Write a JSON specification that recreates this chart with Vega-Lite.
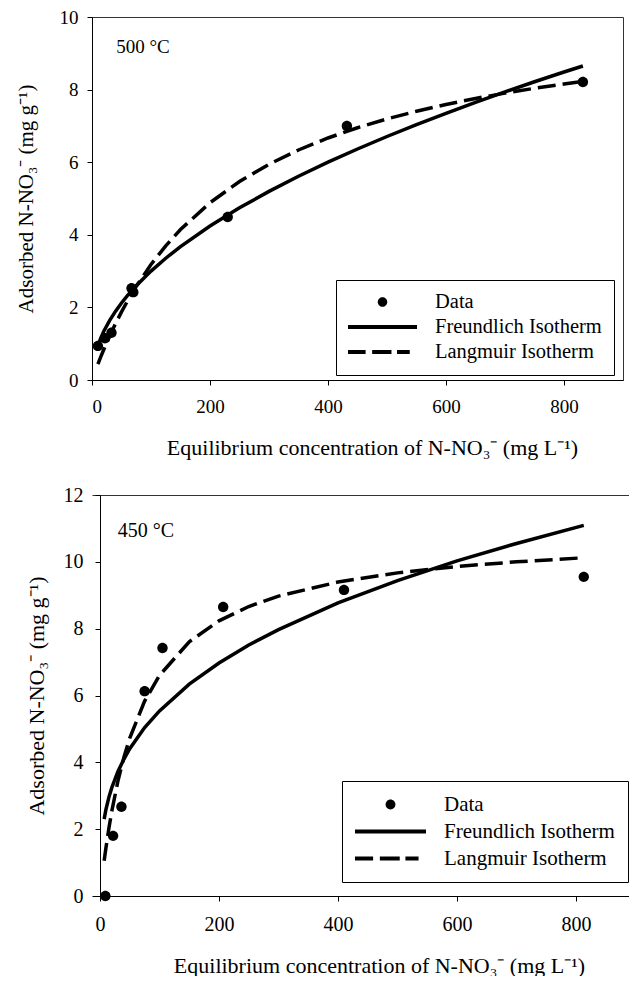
{
  "$schema": "https://vega.github.io/schema/vega-lite/v6.json",
  "background": "white",
  "padding": {"left": 14, "top": 7, "right": 0, "bottom": 0},
  "spacing": 26,
  "config": {
    "font": "Liberation Serif",
    "view": {"stroke": "#333333", "strokeWidth": 1},
    "axis": {
      "grid": false,
      "domainColor": "black",
      "tickColor": "black",
      "labelColor": "black",
      "titleColor": "black",
      "labelFont": "Liberation Serif",
      "titleFont": "Liberation Serif",
      "titleFontWeight": "normal",
      "tickSize": 5
    },
    "legend": {
      "title": null,
      "orient": "none",
      "strokeColor": "black",
      "fillColor": "white",
      "labelFont": "Liberation Serif",
      "labelColor": "black",
      "labelOffset": 18,
      "labelLimit": 300,
      "symbolOffset": 0,
      "symbolFillColor": "black",
      "symbolStrokeWidth": 0
    }
  },
  "datasets": {
    "top": [
      {"c": 10, "q": 0.94, "series": "Data"},
      {"c": 22, "q": 1.15, "series": "Data"},
      {"c": 33, "q": 1.3, "series": "Data"},
      {"c": 67, "q": 2.53, "series": "Data"},
      {"c": 70, "q": 2.42, "series": "Data"},
      {"c": 230, "q": 4.49, "series": "Data"},
      {"c": 432, "q": 7.0, "series": "Data"},
      {"c": 832, "q": 8.21, "series": "Data"},
      {"c": 10, "q": 0.949, "series": "Freundlich Isotherm"},
      {"c": 15, "q": 1.162, "series": "Freundlich Isotherm"},
      {"c": 20, "q": 1.342, "series": "Freundlich Isotherm"},
      {"c": 30, "q": 1.643, "series": "Freundlich Isotherm"},
      {"c": 40, "q": 1.897, "series": "Freundlich Isotherm"},
      {"c": 50, "q": 2.121, "series": "Freundlich Isotherm"},
      {"c": 60, "q": 2.324, "series": "Freundlich Isotherm"},
      {"c": 75, "q": 2.598, "series": "Freundlich Isotherm"},
      {"c": 100, "q": 3.0, "series": "Freundlich Isotherm"},
      {"c": 125, "q": 3.354, "series": "Freundlich Isotherm"},
      {"c": 150, "q": 3.674, "series": "Freundlich Isotherm"},
      {"c": 200, "q": 4.243, "series": "Freundlich Isotherm"},
      {"c": 250, "q": 4.743, "series": "Freundlich Isotherm"},
      {"c": 300, "q": 5.196, "series": "Freundlich Isotherm"},
      {"c": 350, "q": 5.612, "series": "Freundlich Isotherm"},
      {"c": 400, "q": 6.0, "series": "Freundlich Isotherm"},
      {"c": 450, "q": 6.364, "series": "Freundlich Isotherm"},
      {"c": 500, "q": 6.708, "series": "Freundlich Isotherm"},
      {"c": 550, "q": 7.036, "series": "Freundlich Isotherm"},
      {"c": 600, "q": 7.348, "series": "Freundlich Isotherm"},
      {"c": 650, "q": 7.649, "series": "Freundlich Isotherm"},
      {"c": 700, "q": 7.937, "series": "Freundlich Isotherm"},
      {"c": 750, "q": 8.216, "series": "Freundlich Isotherm"},
      {"c": 800, "q": 8.485, "series": "Freundlich Isotherm"},
      {"c": 832, "q": 8.65, "series": "Freundlich Isotherm"},
      {"c": 10, "q": 0.44, "series": "Langmuir Isotherm"},
      {"c": 15, "q": 0.643, "series": "Langmuir Isotherm"},
      {"c": 20, "q": 0.84, "series": "Langmuir Isotherm"},
      {"c": 30, "q": 1.212, "series": "Langmuir Isotherm"},
      {"c": 40, "q": 1.556, "series": "Langmuir Isotherm"},
      {"c": 50, "q": 1.875, "series": "Langmuir Isotherm"},
      {"c": 60, "q": 2.172, "series": "Langmuir Isotherm"},
      {"c": 75, "q": 2.582, "series": "Langmuir Isotherm"},
      {"c": 100, "q": 3.182, "series": "Langmuir Isotherm"},
      {"c": 125, "q": 3.697, "series": "Langmuir Isotherm"},
      {"c": 150, "q": 4.145, "series": "Langmuir Isotherm"},
      {"c": 200, "q": 4.884, "series": "Langmuir Isotherm"},
      {"c": 250, "q": 5.469, "series": "Langmuir Isotherm"},
      {"c": 300, "q": 5.943, "series": "Langmuir Isotherm"},
      {"c": 350, "q": 6.336, "series": "Langmuir Isotherm"},
      {"c": 400, "q": 6.667, "series": "Langmuir Isotherm"},
      {"c": 450, "q": 6.949, "series": "Langmuir Isotherm"},
      {"c": 500, "q": 7.192, "series": "Langmuir Isotherm"},
      {"c": 550, "q": 7.404, "series": "Langmuir Isotherm"},
      {"c": 600, "q": 7.59, "series": "Langmuir Isotherm"},
      {"c": 650, "q": 7.756, "series": "Langmuir Isotherm"},
      {"c": 700, "q": 7.903, "series": "Langmuir Isotherm"},
      {"c": 750, "q": 8.036, "series": "Langmuir Isotherm"},
      {"c": 800, "q": 8.155, "series": "Langmuir Isotherm"},
      {"c": 832, "q": 8.224, "series": "Langmuir Isotherm"}
    ],
    "bottom": [
      {"c": 9, "q": 0.0, "series": "Data"},
      {"c": 22, "q": 1.8, "series": "Data"},
      {"c": 36, "q": 2.67, "series": "Data"},
      {"c": 75, "q": 6.13, "series": "Data"},
      {"c": 105, "q": 7.42, "series": "Data"},
      {"c": 207, "q": 8.65, "series": "Data"},
      {"c": 410, "q": 9.16, "series": "Data"},
      {"c": 813, "q": 9.55, "series": "Data"},
      {"c": 7, "q": 2.3, "series": "Freundlich Isotherm"},
      {"c": 10, "q": 2.59, "series": "Freundlich Isotherm"},
      {"c": 15, "q": 2.96, "series": "Freundlich Isotherm"},
      {"c": 20, "q": 3.25, "series": "Freundlich Isotherm"},
      {"c": 30, "q": 3.72, "series": "Freundlich Isotherm"},
      {"c": 40, "q": 4.09, "series": "Freundlich Isotherm"},
      {"c": 50, "q": 4.41, "series": "Freundlich Isotherm"},
      {"c": 75, "q": 5.04, "series": "Freundlich Isotherm"},
      {"c": 100, "q": 5.54, "series": "Freundlich Isotherm"},
      {"c": 150, "q": 6.34, "series": "Freundlich Isotherm"},
      {"c": 200, "q": 6.97, "series": "Freundlich Isotherm"},
      {"c": 250, "q": 7.51, "series": "Freundlich Isotherm"},
      {"c": 300, "q": 7.97, "series": "Freundlich Isotherm"},
      {"c": 400, "q": 8.77, "series": "Freundlich Isotherm"},
      {"c": 500, "q": 9.44, "series": "Freundlich Isotherm"},
      {"c": 600, "q": 10.03, "series": "Freundlich Isotherm"},
      {"c": 700, "q": 10.55, "series": "Freundlich Isotherm"},
      {"c": 813, "q": 11.09, "series": "Freundlich Isotherm"},
      {"c": 7, "q": 1.053, "series": "Langmuir Isotherm"},
      {"c": 10, "q": 1.445, "series": "Langmuir Isotherm"},
      {"c": 15, "q": 2.033, "series": "Langmuir Isotherm"},
      {"c": 20, "q": 2.553, "series": "Langmuir Isotherm"},
      {"c": 30, "q": 3.429, "series": "Langmuir Isotherm"},
      {"c": 40, "q": 4.14, "series": "Langmuir Isotherm"},
      {"c": 50, "q": 4.728, "series": "Langmuir Isotherm"},
      {"c": 75, "q": 5.832, "series": "Langmuir Isotherm"},
      {"c": 100, "q": 6.602, "series": "Langmuir Isotherm"},
      {"c": 150, "q": 7.608, "series": "Langmuir Isotherm"},
      {"c": 200, "q": 8.235, "series": "Langmuir Isotherm"},
      {"c": 250, "q": 8.663, "series": "Langmuir Isotherm"},
      {"c": 300, "q": 8.975, "series": "Langmuir Isotherm"},
      {"c": 400, "q": 9.397, "series": "Langmuir Isotherm"},
      {"c": 500, "q": 9.67, "series": "Langmuir Isotherm"},
      {"c": 600, "q": 9.86, "series": "Langmuir Isotherm"},
      {"c": 700, "q": 10.001, "series": "Langmuir Isotherm"},
      {"c": 813, "q": 10.122, "series": "Langmuir Isotherm"}
    ],
    "top_label": [{"c": 41, "q": 9.17, "label": "500 °C"}],
    "bottom_label": [{"c": 30, "q": 10.93, "label": "450 °C"}]
  },
  "resolve": {"scale": {"shape": "independent", "x": "independent", "y": "independent"}, "legend": {"shape": "independent"}},
  "vconcat": [
    {
      "width": 531,
      "height": 363,
      "encoding": {
        "x": {"field": "c", "type": "quantitative", "scale": {"domain": [0, 900], "nice": false},
              "axis": {"values": [0, 200, 400, 600, 800], "labelFontSize": 19, "titleFontSize": 22, "labelPadding": 12, "titlePadding": 21, "titleX": 280, "titleAlign": "center"},
              "title": "Equilibrium concentration of N-NO₃⁻ (mg L⁻¹)"},
        "y": {"field": "q", "type": "quantitative", "scale": {"domain": [0, 10], "nice": false},
              "axis": {"values": [0, 2, 4, 6, 8, 10], "labelFontSize": 19, "titleFontSize": 21, "labelPadding": 9, "titlePadding": 23},
              "title": "Adsorbed N-NO₃⁻ (mg g⁻¹)"}
      },
      "layer": [
        {
          "data": {"name": "top"},
          "transform": [{"filter": "datum.series === 'Freundlich Isotherm'"}],
          "mark": {"type": "line", "color": "black", "strokeWidth": 3.5}
        },
        {
          "data": {"name": "top"},
          "transform": [{"filter": "datum.series === 'Langmuir Isotherm'"}],
          "mark": {"type": "line", "color": "black", "strokeWidth": 3.5, "strokeDash": [18, 7]}
        },
        {
          "data": {"name": "top"},
          "transform": [{"filter": "datum.series === 'Data'"}],
          "mark": {"type": "point", "filled": true, "color": "black", "opacity": 1, "size": 5680, "strokeWidth": 0},
          "encoding": {
            "shape": {"field": "series", "type": "nominal",
              "scale": {"domain": ["Data", "Freundlich Isotherm", "Langmuir Isotherm"],
                        "range": ["M-0.138,0A0.138,0.138,0,1,1,0.138,0A0.138,0.138,0,1,1,-0.138,0Z", "M-1,-0.058H1V0.058H-1Z", "M-1,-0.058H-0.49V0.058H-1ZM-0.3,-0.058H0.26V0.058H-0.3ZM0.42,-0.058H0.79V0.058H0.42Z"]},
              "legend": {"legendX": 244, "legendY": 263, "padding": 12, "rowPadding": 4, "clipHeight": 20, "symbolSize": 4761, "labelFontSize": 20.5,
                "encode": {"symbols": {"update": {"size": {"value": 4761}, "fill": {"value": "black"}, "opacity": {"value": 1}, "strokeWidth": {"value": 0}}}}}}
          }
        },
        {
          "data": {"name": "top_label"},
          "mark": {"type": "text", "align": "left", "baseline": "middle", "fontSize": 19, "font": "Liberation Serif", "color": "black"},
          "encoding": {"text": {"field": "label"}}
        }
      ]
    },
    {
      "width": 537,
      "height": 401,
      "view": {"stroke": null},
      "resolve": {"axis": {"x": "independent"}},
      "layer": [
        {
          "data": {"name": "bottom"},
          "transform": [{"filter": "datum.series === 'Freundlich Isotherm'"}],
          "mark": {"type": "line", "color": "black", "strokeWidth": 3.5},
          "encoding": {
            "x": {"field": "c", "type": "quantitative", "scale": {"domain": [-13.45, 889], "nice": false, "zero": false},
                  "axis": {"values": [0, 200, 400, 600, 800], "labelFontSize": 20, "titleFontSize": 22, "labelPadding": 13, "titlePadding": 21, "titleX": 287, "titleAlign": "center"},
                  "title": "Equilibrium concentration of N-NO₃⁻ (mg L⁻¹)"},
            "y": {"field": "q", "type": "quantitative", "scale": {"domain": [0, 12], "nice": false},
                  "axis": {"values": [0, 2, 4, 6, 8, 10, 12], "offset": -8, "labelFontSize": 20, "titleFontSize": 22, "labelPadding": 12, "titlePadding": 15},
                  "title": "Adsorbed N-NO₃⁻ (mg g⁻¹)"}
          }
        },
        {
          "data": {"name": "bottom"},
          "transform": [{"filter": "datum.series === 'Langmuir Isotherm'"}],
          "mark": {"type": "line", "color": "black", "strokeWidth": 3.5, "strokeDash": [18, 7]},
          "encoding": {
            "x": {"field": "c", "type": "quantitative", "axis": null},
            "y": {"field": "q", "type": "quantitative"}
          }
        },
        {
          "data": {"name": "bottom"},
          "transform": [{"filter": "datum.series === 'Data'"}],
          "mark": {"type": "point", "filled": true, "color": "black", "opacity": 1, "size": 5680, "strokeWidth": 0},
          "encoding": {
            "x": {"field": "c", "type": "quantitative", "axis": null},
            "y": {"field": "q", "type": "quantitative"},
            "shape": {"field": "series", "type": "nominal",
              "scale": {"domain": ["Data", "Freundlich Isotherm", "Langmuir Isotherm"],
                        "range": ["M-0.138,0A0.138,0.138,0,1,1,0.138,0A0.138,0.138,0,1,1,-0.138,0Z", "M-1,-0.058H1V0.058H-1Z", "M-1,-0.058H-0.49V0.058H-1ZM-0.3,-0.058H0.26V0.058H-0.3ZM0.42,-0.058H0.79V0.058H0.42Z"]},
              "legend": {"legendX": 250, "legendY": 286, "padding": 13, "rowPadding": 5, "clipHeight": 21, "symbolSize": 5041, "labelFontSize": 21,
                "encode": {"symbols": {"update": {"size": {"value": 5041}, "fill": {"value": "black"}, "opacity": {"value": 1}, "strokeWidth": {"value": 0}}}}}}
          }
        },
        {
          "data": {"name": "bottom_label"},
          "mark": {"type": "text", "align": "left", "baseline": "middle", "fontSize": 20, "font": "Liberation Serif", "color": "black"},
          "encoding": {
            "x": {"field": "c", "type": "quantitative",
                  "axis": {"orient": "top", "labels": false, "ticks": false, "title": null, "domainColor": "#333333"}},
            "y": {"field": "q", "type": "quantitative"},
            "text": {"field": "label"}
          }
        }
      ]
    }
  ]
}
